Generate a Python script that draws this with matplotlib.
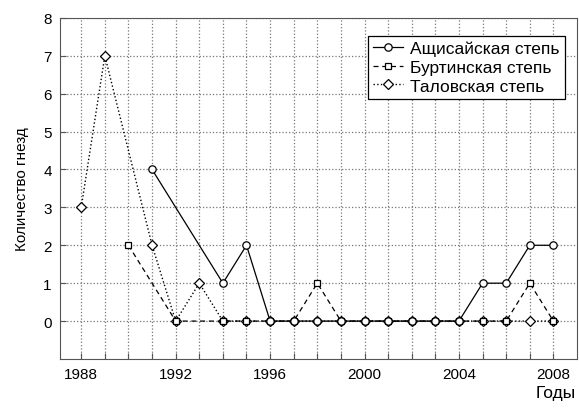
import matplotlib
matplotlib.use('Agg')
import matplotlib.pyplot as plt

plt.rcParams['font.family'] = ['Liberation Sans', 'DejaVu Sans']

# nests per year, three steppe plots
ash_years = [1991, 1994, 1995, 1996, 1997, 1998, 1999, 2000, 2001, 2002, 2003, 2004, 2005, 2006, 2007, 2008]
ash_nests = [4, 1, 2, 0, 0, 0, 0, 0, 0, 0, 0, 0, 1, 1, 2, 2]

bur_years = [1990, 1992, 1994, 1995, 1996, 1997, 1998, 1999, 2000, 2001, 2002, 2003, 2004, 2005, 2006, 2007, 2008]
bur_nests = [2, 0, 0, 0, 0, 0, 1, 0, 0, 0, 0, 0, 0, 0, 0, 1, 0]

tal_years = [1988, 1989, 1991, 1992, 1993, 1994, 1995, 1996, 1997, 1998, 1999, 2000, 2001, 2002, 2003, 2004, 2005, 2006, 2007, 2008]
tal_nests = [3, 7, 2, 0, 1, 0, 0, 0, 0, 0, 0, 0, 0, 0, 0, 0, 0, 0, 0, 0]

labels = ['Ащисайская степь', 'Буртинская степь', 'Таловская степь']

fig = plt.figure(figsize=(5.79, 4.10), dpi=100)
ax = fig.add_axes([0.1036, 0.122, 0.893, 0.832])

ax.plot(tal_years, tal_nests, color='black', linestyle=':', linewidth=1,
        marker='D', markersize=5, markerfacecolor='white', markeredgecolor='black',
        markeredgewidth=0.9, label=labels[2], zorder=3)
ax.plot(bur_years, bur_nests, color='black', linestyle=(0, (4, 3)), linewidth=0.9,
        marker='s', markersize=4.3, markerfacecolor='white', markeredgecolor='black',
        markeredgewidth=0.9, label=labels[1], zorder=4)
ax.plot(ash_years, ash_nests, color='black', linestyle='-', linewidth=0.9,
        marker='o', markersize=5.3, markerfacecolor='white', markeredgecolor='black',
        markeredgewidth=0.9, label=labels[0], zorder=5)

ax.set_xlim(1987.1, 2009)
ax.set_ylim(-1, 8)
ax.set_yticks(range(0, 9))
years = list(range(1988, 2009))
ax.set_xticks(years)
ax.set_xticklabels([str(y) if y % 4 == 0 else '' for y in years])
ax.tick_params(direction='in', length=4, color='#555555', labelsize=11, pad=6)
ax.grid(True, color='#777777', linestyle=':', linewidth=0.9)
ax.set_axisbelow(True)
for s in ax.spines.values():
    s.set_color('#555555')

ax.set_ylabel('Количество гнезд', fontsize=11, labelpad=10)
ax.text(0.997, -0.097, 'Годы', transform=ax.transAxes, ha='right', va='center', fontsize=12.5)

handles, labs = ax.get_legend_handles_labels()
leg = ax.legend(handles[::-1], labs[::-1], loc='upper right', bbox_to_anchor=(0.976, 0.948),
                fontsize=12.5, frameon=True, fancybox=False, edgecolor='black',
                handlelength=1.7, handletextpad=0.4, borderpad=0.3, labelspacing=0.2,
                borderaxespad=0)
leg.get_frame().set_linewidth(0.9)
leg.get_frame().set_alpha(1)

fig.savefig('out.png', dpi=100)
